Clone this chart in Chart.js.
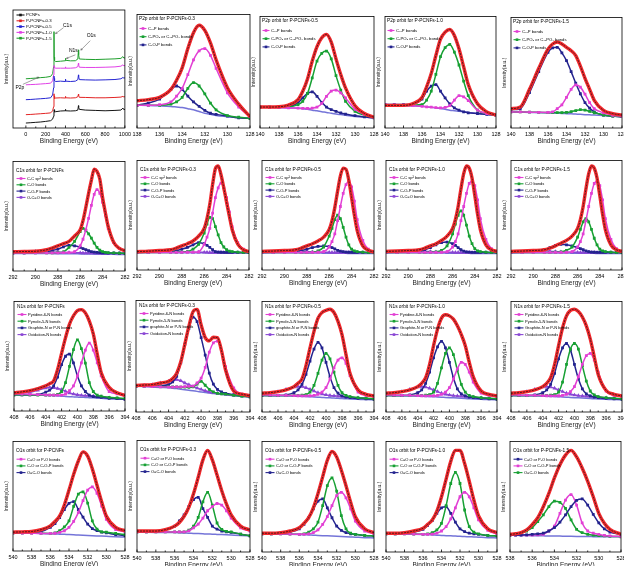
<!DOCTYPE html>
<html><head><meta charset="utf-8">
<script src="https://cdn.jsdelivr.net/npm/chart.js@4.4.1/dist/chart.umd.min.js"></script>
<style>
html,body{margin:0;padding:0;background:#fff;}
body{width:624px;height:566px;overflow:hidden;position:relative;}
</style></head><body>
<script>
// ---------------- DATA ----------------
// Survey spectra (binding energy, eV) – curves are vertically offset in the original
const S_E = [0,50,100,150,200,250,270,280,284,286,290,300,350,398,400,402,450,500,525,531,533,540,600,700,800,900,960,980,990,1000];
const S_PCNFs = [4.2,4.5,4.8,5.1,5.6,6.2,7.5,9.9,14,15.5,13.5,13.8,14.4,14.6,15.8,14.6,14.4,14.6,15.2,18.9,17.5,15.8,15.2,14.9,14.6,14.9,15.2,16.9,15.5,15.8];
const S_03 = [11.3,11.5,11.8,12.1,12.4,12.8,14.5,18,29,27,25,25.4,25.6,25.4,26.8,25.6,25.4,25.6,26.5,28.7,27.5,26,25.9,25.6,25.6,25.9,26.2,26.8,26.3,26.5];
const S_05 = [24,24.2,24.5,24.8,25.1,25.6,28,34,44,42,40,39.4,39.7,39.4,41.4,39.7,39.4,39.7,41,45,43.5,41,40.8,40.6,40.8,41.1,41.7,42.8,42.3,42.5];
const S_10 = [36.6,36.8,37,37.3,37.6,38,40,45,53,52,51,50.7,50.7,50.7,51.8,50.7,50.7,51,52,54.9,53.5,51.5,51.3,51.3,51.5,51.8,52.4,53.5,52.7,53];
const S_15 = [41.7,42,42.3,42.7,43,43.7,46,52,81.7,60,57,56.3,56.6,57,59,57.4,56.9,57,58.5,66.2,62,58.5,58.2,58,58.3,58.6,59,60.5,59.2,59.5];
const S_LABELS = ['PCNFs','P-PCNFs-0.3','P-PCNFs-0.5','P-PCNFs-1.0','P-PCNFs-1.5'];

// P2p
const P2p03_E = [138,137,136,135,134.5,134,133.5,133,132.5,132,131.5,131,130,129,128];
const P2p03_raw = [24,25,27,34,42,53,70,84,90.5,86,75,60,35.5,21,10];
const P2p03_CxP = [20,20,20.5,23,28,35,47,60,68,70,64,52.5,31,18.5,10];
const P2p03_CPO = [20,20,20,21,23,27,35,40,37,30,22,16,11,9.5,8.5];
const P2p03_COP = [20,22,25.5,34,37,34,28,23,19,15.6,13,12,10.5,9,8.5];
const P2p03_bg  = [20,19.8,19.5,19,18.5,18,17,16,14.5,13,12,11,10,9,8.5];

const P2p_E = [140,139,138,137,136,135.5,135,134.5,134,133.5,133,132.5,132,131.5,131,130,129,128];
const P2p05_raw = [18.8,18.8,19,20.6,25.5,33,44,60,73,81,84,77,62,48,36,20,13,9.6];
const P2p05_CxP = [18.8,18.6,18.3,18,17.8,17.7,17.6,17.8,18.8,22,28.4,33,34,31.5,27,16.8,12,9.6];
const P2p05_CPO = [18.8,18.8,18.8,19,21,24,31,45,60,67,69,62,47,34,24,15,11.6,9.5];
const P2p05_COP = [18.8,18.8,19,19.4,22.6,27,31,32.5,28.4,23,18.8,16.5,15,13.5,12.5,11,10,9];
const P2p05_bg  = [18.8,18.6,18.3,18,17.7,17.2,16.8,16,15.4,14.6,14,13.2,12.5,12,11.5,10.4,9.7,9];

const P2p10_raw = [20.3,20.3,20.3,21.7,27.5,37,49,65,79.7,86,88.4,83,71,55,39,21.7,14.5,11.6];
const P2p10_CxP = [21,20.8,20.4,20,19.4,19,18.7,18.3,18,18.5,20,25,29,28,24.6,16,13,11.6];
const P2p10_CPO = [20.3,20.3,20.3,20.5,21,25,33,48,64,72,75,68,56.5,42,29,16,13,11.5];
const P2p10_COP = [21,21,21,21.5,26,33,37.5,39,33,27,21.7,18,16,14.5,13.6,13,12.2,11.6];
const P2p10_bg  = [21,20.6,20.2,19.8,19.4,19,18.5,18,17.4,16.8,16,15.5,15,14.5,14,13,12.2,11.6];

const P2p15_raw = [17.5,19,35,54,71.4,76,77.8,76,73,70,65.6,56,45,35,25,16,13,11.7];
const P2p15_CxP = [14.6,14.5,14.3,14.2,14.1,14.5,17.5,21,27.7,35,39,37,30.6,23,17.5,13.7,11.5,10.5];
const P2p15_CPO = [14.6,14.5,14.3,14.2,14,14,14,14,14.2,14.8,15.8,16.6,16.2,15,13.8,11.7,10.8,10.2];
const P2p15_COP = [16.6,17.5,32,51,68.5,72.5,73,68,61,51,40.5,31,23,18,14.6,11.7,10.8,10.2];
const P2p15_bg  = [14.6,14.4,14.1,13.9,13.6,13.5,13.3,13.2,13,12.8,12.6,12.4,12.1,11.9,11.7,11.2,10.6,10];

// C1s
const C1s_E = [292,291,290,289,288.5,288,287.5,287,286.5,286,285.75,285.5,285.25,285,284.75,284.5,284.25,284,283.75,283.5,283,282.5,282];
const C1s00_raw = [17.6,17.8,18,19.4,21,23,25,27,32,37.6,46,58,71,83,93,91,84,67,53,40.6,26,20.6,18.5];
const C1s00_CC  = [16.5,16.5,16.5,16.5,16.5,16.6,16.7,16.8,17.6,23,29,37.6,48,60,70,74.4,71,62.6,51,39,26,20.6,18.5];
const C1s00_CO  = [16.5,16.5,16.5,16.5,16.6,16.8,17.5,21.5,27,36,39,37,34,30,25.5,21.5,19,17.6,17,16.7,16.5,16.3,16.2];
const C1s00_COP = [16.5,16.6,17,17.6,18.8,20,22,23.5,23,21.5,20.5,19.5,18.5,17.6,17.2,17,16.8,16.6,16.5,16.4,16.3,16.2,16.2];
const C1s00_OCO = [16.8,17.2,17.8,18,17.6,17.2,17,16.8,16.7,16.6,16.5,16.5,16.4,16.4,16.3,16.3,16.2,16.2,16.2,16.1,16.1,16,16];
const C1s00_bg  = [16,16,16,15.9,15.9,15.8,15.8,15.7,15.7,15.6,15.6,15.5,15.5,15.5,15.4,15.4,15.4,15.3,15.3,15.2,15.2,15.1,15];

const C1s03_raw = [16.8,17.2,17.8,18.5,20,22,24,26.5,31,38,47,60,78,92.6,95,87,75,61.8,49,36.8,23.5,18.5,16.8];
const C1s03_CC  = [16,16,16,16,16,16.1,16.2,16.3,16.5,23.5,30,38,52,66,75,79.4,75,66,53,39.7,25,19,16.8];
const C1s03_CO  = [16,16,16,16,16.2,16.4,16.8,19,23.5,33.8,42,48,47,39.7,32,25,21,18.5,17.3,16.8,16.3,16,16];
const C1s03_COP = [16,16.2,16.5,17,17.6,19,20.6,23,25,24,22.5,20.6,18.5,16.8,16.4,16.2,16.1,16,16,16,16,16,16];
const C1s03_OCO = [16.2,16.5,16.8,16.8,16.6,16.4,16.3,16.2,16.2,16.1,16.1,16,16,16,16,16,16,16,16,16,16,16,16];
const C1s03_bg  = [16,16,15.9,15.9,15.8,15.8,15.8,15.7,15.7,15.7,15.6,15.6,15.6,15.6,15.6,15.5,15.5,15.5,15.5,15.5,15.5,15.5,15.5];

const C1s05_raw = [17,17.3,17.8,18.5,20,22,24,26.5,30,37,45,57,72,86,93,92,82,66,50,36,22,18,16.5];
const C1s05_CC  = [16,16,16,16,16,16,16,16.2,16.8,21,26,33,45,58,70,78,81,76,63,46,27,19,16.5];
const C1s05_CO  = [16,16,16,16,16,16,16.3,17.5,21,31,38,46,50,47,39,30,23,19,17.5,16.8,16.3,16,16];
const C1s05_COP = [16,16.2,16.5,17,17.8,19,20.5,21.5,22,21.5,20.5,19.3,18,17.2,16.7,16.4,16.2,16.1,16,16,16,16,16];
const C1s05_OCO = [16.2,16.6,17.2,17.5,17.2,16.8,16.5,16.3,16.2,16.1,16,16,16,16,16,16,16,16,16,16,16,16,16];
const C1s05_bg  = [15.8,15.8,15.7,15.7,15.6,15.6,15.5,15.5,15.4,15.4,15.3,15.3,15.3,15.2,15.2,15.2,15.1,15.1,15.1,15,15,15,15];

const C1s10_raw = [17,17.3,17.8,18.5,20,22,24,27,31,38,46,58,74,88,95,93,84,68,51,37,23,18.5,17];
const C1s10_CC  = [16,16,16,16,16,16,16,16.2,16.8,21,26,33,45,58,70,79,81,77,64,47,28,19.5,17];
const C1s10_CO  = [16,16,16,16,16,16.2,16.5,18,22,33,42,50,54,50,41,31,24,19.5,17.5,16.8,16.3,16,16];
const C1s10_COP = [16,16.2,16.5,17.2,18.5,20.5,23,25,25.5,24,22.5,20.5,18.5,17.2,16.6,16.3,16.1,16,16,16,16,16,16];
const C1s10_OCO = [16.2,16.6,17.2,17.5,17.2,16.8,16.5,16.3,16.2,16.1,16,16,16,16,16,16,16,16,16,16,16,16,16];
const C1s10_bg  = [15.8,15.8,15.7,15.7,15.6,15.6,15.5,15.5,15.4,15.4,15.3,15.3,15.3,15.2,15.2,15.2,15.1,15.1,15.1,15,15,15,15];

const C1s15_raw = [17,17.3,17.8,18.5,20,22,24.5,27,31,38,46,58,74,88,95,93,84,68,51,37,23,18.5,17];
const C1s15_CC  = [16,16,16,16,16,16,16,16.2,16.8,21,26,33,45,58,70,79,81,77,64,47,28,19.5,17];
const C1s15_CO  = [16,16,16,16,16,16.2,16.5,18,21,30,37,44,47,44,37,29,23,19,17.5,16.8,16.3,16,16];
const C1s15_COP = [16,16.3,17,18.5,20.5,22.5,23.5,23,22,20.5,19.5,18.5,17.5,16.8,16.4,16.2,16.1,16,16,16,16,16,16];
const C1s15_OCO = [16.2,16.6,17.2,17.5,17.2,16.8,16.5,16.3,16.2,16.1,16,16,16,16,16,16,16,16,16,16,16,16,16];
const C1s15_bg  = [15.8,15.8,15.7,15.7,15.6,15.6,15.5,15.5,15.4,15.4,15.3,15.3,15.3,15.2,15.2,15.2,15.1,15.1,15.1,15,15,15,15];

// N1s
const N1s_E = [408,407,406,405,404,403.5,403,402.5,402,401.5,401,400.5,400,399.5,399,398.5,398,397.5,397,396,395,394];
const N1s00_raw = [16.6,17.5,18.6,20.5,23,25,27.5,38,52.7,67,79.3,87,91.7,92.6,89.6,82,70.4,52,35,21.6,16.6,14.2];
const N1s00_pyd = [15.7,15.5,15.3,15,14.8,14.6,14.5,14.4,14.5,15.5,18.6,23,32,44,55.6,62,55.6,44,32,17.8,15.7,14];
const N1s00_pyr = [14.8,14.8,14.7,14.6,14.5,14.5,14.6,15.2,17.8,26,40.8,56,65,57,43.8,26,17.8,14.5,13.5,12.5,12,11.5];
const N1s00_gra = [14.8,14.8,14.8,15,17.2,19,23,31,42.3,50,52,44,32,23,17.8,14.5,13.2,12.8,12.5,11.6,11.2,10.7];
const N1s00_oxi = [15.7,16.5,17.2,19,21,21.6,21.2,20.5,19.5,18,16.5,15.5,14.8,14.3,14,13.8,13.6,13.2,12.8,12,11.5,11];
const N1s00_bg  = [14.8,14.6,14.5,14.4,14.2,14.1,14,13.8,13.5,13.3,13.1,12.9,12.7,12.5,12.4,12.2,12,11.8,11.6,11.2,11,10.7];

const N1s03_raw = [23.8,24.2,24.6,26,27.5,30,34.8,45,60.9,77,89.9,92,78,66.7,63.8,67,66.7,55,37.7,18.8,16,14.5];
const N1s03_pyd = [23.2,23,22.8,22.6,22.4,22.4,22.5,22.6,22.8,23,23.2,26,30.4,40,53.6,62,63.5,55,40.6,21.7,16,14.5];
const N1s03_pyr = [23,23,23,22.8,22.7,22.6,22.5,22.4,22.3,22.2,22.5,25,27.5,24,20.3,18,16.8,16.3,16,15,14.2,13.6];
const N1s03_gra = [23.2,23.2,23.3,23.6,24.6,27,31.9,44,60.9,75,85,81,66.7,51,34.8,25,20.3,18,16.8,15.5,14.5,13.6];
const N1s03_oxi = [23.2,23.8,24.6,26,27.5,28.5,29,28,26,24.5,22.8,21.5,20.3,19,18,17.2,16.8,16.3,15.8,15,14.3,13.6];
const N1s03_bg  = [23.2,22.8,22.4,22,21.7,21.3,21,20.5,20,19.5,19,18.5,18,17.5,17,16.5,16.2,15.8,15.4,14.5,14,13.6];

const N1s05_raw = [17,17.5,18.5,20,23,26,30,42,58,73,85,90,92,93,90,82,70,52,35,20,16,14.5];
const N1s05_pyd = [15.5,15.3,15.1,15,14.8,14.7,14.6,14.6,14.7,15,16,18,22,30,40,47,49,44,33,18,15,14];
const N1s05_pyr = [15,15,15,15,15,15,15.2,15.8,18,24,35,47,53,48,36,24,17.5,15,14,13,12.5,12];
const N1s05_gra = [15,15,15,15.5,17.5,20,25,34,46,57,63,58,45,32,22,17,14.5,13.5,13,12.3,12,11.5];
const N1s05_oxi = [16,17,18.5,20.5,22.5,23,23,22,20.5,19,17.5,16.3,15.5,15,14.6,14.3,14,13.7,13.4,12.8,12.3,12];
const N1s05_bg  = [15,14.8,14.7,14.5,14.3,14.2,14.1,14,13.8,13.6,13.4,13.2,13,12.8,12.6,12.4,12.2,12,11.8,11.5,11.2,11];

const N1s10_raw = [17,17.5,18.5,20,23,26,31,43,60,75,85,88,87,84,78,70,60,45,32,19,16,14.5];
const N1s10_pyd = [15.5,15.3,15.1,15,14.8,14.7,14.6,14.6,14.7,15,16,18,22,30,39,45,43,36,27,17,15,14];
const N1s10_pyr = [15,15,15,15,15,15,15.2,15.8,18,26,40,53,58,52,38,25,18,15,14,13,12.5,12];
const N1s10_gra = [15,15,15,15.5,17.5,20,26,36,49,59,64,58,45,31,21,16.5,14.5,13.5,13,12.3,12,11.5];
const N1s10_oxi = [16,17,18.5,20.5,22.5,23,22.5,21.5,20,18.5,17,16,15.3,14.8,14.5,14.2,14,13.7,13.4,12.8,12.3,12];
const N1s10_bg  = [15,14.8,14.7,14.5,14.3,14.2,14.1,14,13.8,13.6,13.4,13.2,13,12.8,12.6,12.4,12.2,12,11.8,11.5,11.2,11];

const N1s15_raw = [17,17.5,18.5,20,23,26,31,43,60,76,87,92,93,91,86,78,66,50,34,19.5,16,14.5];
const N1s15_pyd = [15.5,15.3,15.1,15,14.8,14.7,14.6,14.6,14.7,15,16,18.5,23,32,43,51,53,47,36,19,15,14];
const N1s15_pyr = [15,15,15,15,15,15,15.2,15.8,18,27,43,57,62,57,42,28,19,15.5,14,13,12.5,12];
const N1s15_gra = [15,15,15,15.5,17.5,20,25,35,48,58,62,56,43,30,21,16.5,14.5,13.5,13,12.3,12,11.5];
const N1s15_oxi = [16,17,18.5,20.5,22.5,23,22.5,21.5,20,18.5,17,16,15.3,14.8,14.5,14.2,14,13.7,13.4,12.8,12.3,12];
const N1s15_bg  = [15,14.8,14.7,14.5,14.3,14.2,14.1,14,13.8,13.6,13.4,13.2,13,12.8,12.6,12.4,12.2,12,11.8,11.5,11.2,11];

// O1s
const O1s_E = [540,539,538,537,536,535.5,535,534.5,534,533.5,533,532.5,532,531.5,531,530.5,530,529,528];
const O1s00_raw = [17.2,17.5,17.8,19.5,23,27,32,42,55.6,70,82.2,90.5,86.7,75,60,45,32,21.6,18.6];
const O1s00_CO  = [16.6,16.4,16.2,16,16,16.2,17,18.5,21.6,27,35,46,55.6,58.5,52.7,41,29,19.5,17.8];
const O1s00_COP = [16.6,16.5,16.4,16.2,16,16.5,18.6,22,27.5,40.8,52,54,43.8,27.5,20,17.5,17.2,16,15];
const O1s00_OCO = [16.6,16.6,17,17.8,21.6,25,30.5,37.9,43.5,45,37.9,31,24.6,20.5,18.6,17.2,16.6,15,14];
const O1s00_bg  = [16.6,16.4,16.2,16,15.7,15.6,15.4,15.2,15,14.8,14.6,14.4,14.2,14,13.8,13.6,13.4,13,12.7];

const O1s03_raw = [18.8,18.8,18.8,20,23.2,26.5,31.9,40,52.2,67,82.6,91,82.6,69,55,43,33.3,23.2,19.7];
const O1s03_CO  = [18,18,18,18,18,18,18,19,21.7,25,30.4,37,40.6,43.5,42,37,30.4,21.7,18.8];
const O1s03_COP = [18,18,18,18,18,18,18,19.5,23.2,31,45,53.5,42,26,20.3,18.5,18,16,14.5];
const O1s03_OCO = [18,18,18.3,19.7,23.2,28,33.3,40.6,47,49,39,31,23.2,20.5,18.8,18,17.5,16,14.5];
const O1s03_bg  = [18,17.8,17.6,17.4,17.4,17.2,17,16.8,16.7,16.5,16.3,16.1,16,15.8,15.6,15.4,15.2,14.8,14.5];

const O1s05_raw = [17,17,17.5,19,22,26,31,40,53,68,83,91,86,74,60,45,32,21,17.5];
const O1s05_CO  = [16.5,16.4,16.3,16.2,16,16,16.3,17.5,20,25,32,42,51,54,49,39,28,19,16.5];
const O1s05_COP = [16.5,16.4,16.3,16.2,16,16.5,18,21,27,42,60,67,55,33,21,17,16,15,14.5];
const O1s05_OCO = [16.5,16.5,17,18,21,25,31,39,46,48,40,31,23.5,19.5,17.5,16.5,16,15,14.5];
const O1s05_bg  = [16.5,16.3,16.1,16,15.8,15.6,15.4,15.2,15,14.8,14.6,14.4,14.2,14,13.8,13.6,13.4,13,12.7];

const O1s10_raw = [17,17,17.5,19,21.5,25,29,37,50,66,82,92,92,80,64,47,33,21,17.5];
const O1s10_CO  = [16.5,16.4,16.3,16.2,16,16,16.2,17,19,23,30,40,50,54,50,40,29,19.5,16.5];
const O1s10_COP = [16.5,16.4,16.3,16.2,16,16.3,17.5,20,26,42,62,72,62,38,23,18,16.5,15,14.5];
const O1s10_OCO = [16.5,16.5,17,18,20.5,24,28.5,35,40,41,35,27,21,18.5,17,16.5,16,15,14.5];
const O1s10_bg  = [16.5,16.3,16.1,16,15.8,15.6,15.4,15.2,15,14.8,14.6,14.4,14.2,14,13.8,13.6,13.4,13,12.7];

const O1s15_E = [538,537.5,537,536.5,536,535.5,535,534.5,534,533.5,533,532.5,532,531.5,531,530.5,530,529.5,529,528];
const O1s15_raw = [16,16.5,17.5,20,24.8,31,41,53,67,79,87.7,92,86,76,64,50,35,26,20.5,16];
const O1s15_CO  = [15.2,15.2,15.3,15.5,16,16.5,17,19,22,27,33.6,41,46.8,48,42.4,34,26.3,21,18,16];
const O1s15_COP = [15.2,15.2,15.2,15.2,15.3,15.5,16,19,23.4,35,47,52,42.4,26.3,19,17,16,15,14.5,14];
const O1s15_OCO = [15.5,16,17,19,22,27.5,33.6,41,46,45,39.5,29,20.5,17.5,16,15.2,14.8,14.5,14.2,13.8];
const O1s15_bg  = [15.2,15.1,15,14.9,14.8,14.7,14.6,14.5,14.5,14.4,14.3,14.2,14.1,14,14,13.9,13.8,13.8,13.7,13.7];

// ---------------- DRAWING ----------------
const FONT = "'Liberation Sans Narrow','Liberation Sans',Arial,sans-serif";
Chart.defaults.font.family = FONT;
Chart.defaults.color = '#000';
const COL = {red:'#f2282c', blk:'#151515', mag:'#e23fd4', grn:'#17a033', nav:'#23238e', pur:'#8a46d4', bg:'#7474d8', blu:'#2525d2', sg:'#1f9f2c', sm:'#e040e6', sr:'#e22424'};

function P(E, Y){ return E.map((x,i)=>({x:x, y:Y[i]})); }
function fitSets(E,Y){ return [
  {data:P(E,Y), borderColor:COL.blk, borderWidth:0.7, borderDash:[2,1], pointRadius:0},
  {data:P(E,Y), borderColor:COL.red, borderWidth:3.4, pointRadius:0}]; }
function comp(label,E,Y,color,ps){ return {label:label, legend:true, data:P(E,Y), borderColor:color, backgroundColor:color, borderWidth:1.5, pointRadius:0.9, pointStyle:ps||'rect'}; }
function bgSet(E,Y){ return {data:P(E,Y), borderColor:COL.bg, borderWidth:1.5, pointRadius:0}; }

function framePlugin(){ return {id:'frame', afterDatasetsDraw(c){
  const ctx=c.ctx, a=c.chartArea, xs=c.scales.x;
  ctx.save(); ctx.strokeStyle='#000'; ctx.lineWidth=0.8;
  ctx.strokeRect(a.left, a.top, a.right-a.left, a.bottom-a.top);
  const tv = xs.ticks.map(t=>t.value);
  ctx.beginPath();
  tv.forEach((v,i)=>{ const p=xs.getPixelForValue(v); ctx.moveTo(p,a.bottom); ctx.lineTo(p,a.bottom-2.5);
    if(i<tv.length-1){ const m=xs.getPixelForValue((v+tv[i+1])/2); ctx.moveTo(m,a.bottom); ctx.lineTo(m,a.bottom-1.5);} });
  ctx.stroke(); ctx.restore(); }}; }

function legendPlugin(L){ return {id:'insideLegend', afterDatasetsDraw(c){
  const ctx=c.ctx, a=c.chartArea;
  ctx.save(); ctx.textBaseline='middle'; ctx.textAlign='left';
  if(L.title){ ctx.font=L.tfs+'px '+FONT; ctx.fillStyle='#000'; ctx.fillText(L.title, a.left+L.dx, a.top+L.ty); }
  const items = c.data.datasets.filter(d=>d.legend);
  items.forEach((d,i)=>{
    const y=a.top+L.y0+i*L.dy, x=a.left+L.dx+0.5;
    ctx.strokeStyle=d.borderColor; ctx.fillStyle=d.borderColor; ctx.lineWidth=1.1;
    ctx.beginPath(); ctx.moveTo(x,y); ctx.lineTo(x+L.lw,y); ctx.stroke();
    ctx.fillRect(x+L.lw/2-1.3,y-1.3,2.6,2.6);
    ctx.fillStyle='#000'; ctx.font=L.ifs+'px '+FONT;
    ctx.fillText(d.label, x+L.lw+1.5, y+0.3);
  });
  ctx.restore(); }}; }

function panel(box, xc, datasets, L, extra){
  const l=box[0], t=box[1], r=box[2], b=box[3];
  const AXW=10, AXH=17, PT=2, PR=8;
  const div=document.createElement('div');
  div.style.cssText='position:absolute;left:'+(l-AXW)+'px;top:'+(t-PT)+'px;width:'+(r-l+AXW+PR)+'px;height:'+(b-t+PT+AXH)+'px;';
  const cv=document.createElement('canvas'); div.appendChild(cv); document.body.appendChild(div);
  const plugins=[framePlugin(), legendPlugin(L)]; if(extra) plugins.push(extra);
  new Chart(cv,{type:'line', data:{datasets:datasets}, plugins:plugins, options:{
    responsive:true, maintainAspectRatio:false, animation:false, events:[],
    layout:{padding:{top:PT,right:PR,left:0,bottom:0}},
    plugins:{legend:{display:false}, tooltip:{enabled:false}},
    elements:{line:{cubicInterpolationMode:'monotone'}},
    scales:{
      x:{type:'linear', min:xc.min, max:xc.max, reverse:xc.rev!==false,
         ticks:{stepSize:xc.step, includeBounds:false, font:{size:5.5}, padding:3, maxRotation:0, autoSkip:false, color:'#000',
                callback:(v)=>String(v)},
         grid:{display:false, drawTicks:false}, border:{display:false},
         title:{display:true, text:'Binding Energy (eV)', font:{size:6.5}, padding:{top:0,bottom:0}, color:'#222'},
         afterFit:(s)=>{ s.height=AXH; }},
      y:{min:0, max:100, ticks:{display:false}, grid:{display:false, drawTicks:false}, border:{display:false},
         title:{display:true, text:'Intensity(a.u.)', font:{size:5}, padding:{top:1,bottom:0}, color:'#222'},
         afterFit:(s)=>{ s.width=AXW; }}
    }}});
}

// ---- Survey panel ----
const surveyNotes = {id:'notes', afterDatasetsDraw(c){
  const ctx=c.ctx, xs=c.scales.x, ys=c.scales.y;
  const notes=[{t:'P2p', x:-60, y:34, ax:-30, ay:37, bx:130, by:43},
               {t:'C1s', x:420, y:87, ax:380, ay:85, bx:300, by:80},
               {t:'N1s', x:480, y:65.5, ax:500, ay:62, bx:410, by:59},
               {t:'O1s', x:660, y:78, ax:650, ay:74, bx:555, by:66}];
  ctx.save(); ctx.font='5px '+FONT; ctx.fillStyle='#000'; ctx.strokeStyle='#444'; ctx.lineWidth=0.5;
  ctx.textAlign='center'; ctx.textBaseline='middle';
  notes.forEach(n=>{
    ctx.fillText(n.t, xs.getPixelForValue(n.x), ys.getPixelForValue(n.y));
    const x1=xs.getPixelForValue(n.ax), y1=ys.getPixelForValue(n.ay), x2=xs.getPixelForValue(n.bx), y2=ys.getPixelForValue(n.by);
    ctx.beginPath(); ctx.moveTo(x1,y1); ctx.lineTo(x2,y2); ctx.stroke();
    const ang=Math.atan2(y2-y1,x2-x1);
    ctx.beginPath(); ctx.moveTo(x2,y2); ctx.lineTo(x2-2*Math.cos(ang-0.5),y2-2*Math.sin(ang-0.5));
    ctx.moveTo(x2,y2); ctx.lineTo(x2-2*Math.cos(ang+0.5),y2-2*Math.sin(ang+0.5)); ctx.stroke();
  });
  ctx.restore(); }};
const sCols=[COL.blk, COL.sr, COL.blu, COL.sm, COL.sg];
const sData=[S_PCNFs,S_03,S_05,S_10,S_15];
panel([13,10,126,128], {min:-130,max:1000,step:200,rev:false},
  sData.map((Y,i)=>({label:S_LABELS[i], legend:true, data:P(S_E,Y), borderColor:sCols[i], borderWidth:1, pointRadius:0, tension:0, cubicInterpolationMode:'default'})),
  {dx:3, lw:8, ty:0, y0:5, dy:5.8, tfs:4.5, ifs:4.3}, surveyNotes);

// ---- P2p panels ----
const LP = {dx:2, lw:7, ty:4.5, y0:14, dy:8.2, tfs:4.8, ifs:4.2};
const nCx='Cₓ-P bonds', nCPO='C-PO₃ or C₂-PO₂ bonds', nCOP='C-O-P bonds';
function p2pSets(E,raw,cx,cpo,cop,bg){ return fitSets(E,raw).concat([comp(nCx,E,cx,COL.mag), comp(nCPO,E,cpo,COL.grn), comp(nCOP,E,cop,COL.nav), bgSet(E,bg)]); }
panel([137,11,250,128], {min:128,max:138,step:2}, p2pSets(P2p03_E,P2p03_raw,P2p03_CxP,P2p03_CPO,P2p03_COP,P2p03_bg), Object.assign({title:'P2p orbit for P-PCNFs-0.3'},LP));
panel([260,13,374,128], {min:128,max:140,step:2}, p2pSets(P2p_E,P2p05_raw,P2p05_CxP,P2p05_CPO,P2p05_COP,P2p05_bg), Object.assign({title:'P2p orbit for P-PCNFs-0.5'},LP));
panel([385,13,496,128], {min:128,max:140,step:2}, p2pSets(P2p_E,P2p10_raw,P2p10_CxP,P2p10_CPO,P2p10_COP,P2p10_bg), Object.assign({title:'P2p orbit for P-PCNFs-1.0'},LP));
panel([511,14,622,128], {min:128,max:140,step:2}, p2pSets(P2p_E,P2p15_raw,P2p15_CxP,P2p15_CPO,P2p15_COP,P2p15_bg), Object.assign({title:'P2p orbit for P-PCNFs-1.5'},LP));

// ---- C1s panels ----
const LC = {dx:3, lw:9, ty:9, y0:17, dy:6.3, tfs:4.8, ifs:4};
function c1sSets(raw,cc,co,cop,oco,bg){ const E=C1s_E; return fitSets(E,raw).concat([comp('C-C sp² bonds',E,cc,COL.mag), comp('C-O bonds',E,co,COL.grn), comp('C-O-P bonds',E,cop,COL.nav), comp('O-C=O bonds',E,oco,COL.pur,'triangle'), bgSet(E,bg)]); }
panel([13,158,125,271], {min:282,max:292,step:2}, c1sSets(C1s00_raw,C1s00_CC,C1s00_CO,C1s00_COP,C1s00_OCO,C1s00_bg), Object.assign({title:'C1s orbit for P-PCNFs'},LC));
panel([137,157,249,270], {min:282,max:292,step:2}, c1sSets(C1s03_raw,C1s03_CC,C1s03_CO,C1s03_COP,C1s03_OCO,C1s03_bg), Object.assign({title:'C1s orbit for P-PCNFs-0.3'},LC));
panel([262,157,374,270], {min:282,max:292,step:2}, c1sSets(C1s05_raw,C1s05_CC,C1s05_CO,C1s05_COP,C1s05_OCO,C1s05_bg), Object.assign({title:'C1s orbit for P-PCNFs-0.5'},LC));
panel([386,157,497,270], {min:282,max:292,step:2}, c1sSets(C1s10_raw,C1s10_CC,C1s10_CO,C1s10_COP,C1s10_OCO,C1s10_bg), Object.assign({title:'C1s orbit for P-PCNFs-1.0'},LC));
panel([511,157,622,270], {min:282,max:292,step:2}, c1sSets(C1s15_raw,C1s15_CC,C1s15_CO,C1s15_COP,C1s15_OCO,C1s15_bg), Object.assign({title:'C1s orbit for P-PCNFs-1.5'},LC));

// ---- N1s panels ----
const LN = {dx:3, lw:9, ty:5.3, y0:13, dy:6.7, tfs:4.8, ifs:4};
function n1sSets(raw,pyd,pyr,gra,oxi,bg,gname){ const E=N1s_E; return fitSets(E,raw).concat([comp('Pyridine-6-N bonds',E,pyd,COL.mag), comp('Pyrrole-5-N bonds',E,pyr,COL.grn), comp(gname||'Graphite-N or P-N bonds',E,gra,COL.nav), comp('Oxidation-N bonds',E,oxi,COL.pur,'triangle'), bgSet(E,bg)]); }
panel([14,298,125,411], {min:394,max:408,step:2}, n1sSets(N1s00_raw,N1s00_pyd,N1s00_pyr,N1s00_gra,N1s00_oxi,N1s00_bg), Object.assign({title:'N1s orbit for P-PCNFs'},LN));
panel([136,297,250,412], {min:394,max:408,step:2}, n1sSets(N1s03_raw,N1s03_pyd,N1s03_pyr,N1s03_gra,N1s03_oxi,N1s03_bg,'graphite-N or P-N bonds'), Object.assign({title:'N1s orbit for P-PCNFs-0.3'},LN));
panel([262,298,374,412], {min:394,max:408,step:2}, n1sSets(N1s05_raw,N1s05_pyd,N1s05_pyr,N1s05_gra,N1s05_oxi,N1s05_bg,'graphite-N or P-N bonds'), Object.assign({title:'N1s orbit for P-PCNFs-0.5'},LN));
panel([386,298,497,412], {min:394,max:408,step:2}, n1sSets(N1s10_raw,N1s10_pyd,N1s10_pyr,N1s10_gra,N1s10_oxi,N1s10_bg), Object.assign({title:'N1s orbit for P-PCNFs-1.0'},LN));
panel([511,298,622,412], {min:394,max:408,step:2}, n1sSets(N1s15_raw,N1s15_pyd,N1s15_pyr,N1s15_gra,N1s15_oxi,N1s15_bg), Object.assign({title:'N1s orbit for P-PCNFs-1.5'},LN));

// ---- O1s panels ----
const LO = {dx:3, lw:9, ty:8.7, y0:17.7, dy:6.7, tfs:4.8, ifs:4};
function o1sSets(E,raw,co,cop,oco,bg,cols){ cols=cols||[COL.mag,COL.grn,COL.nav]; return fitSets(E,raw).concat([comp('C=O or P-O bonds',E,co,cols[0]), comp('C-O or C-O-P bonds',E,cop,cols[1]), comp('O=C-O bonds',E,oco,cols[2]), bgSet(E,bg)]); }
panel([13,438,125,551], {min:528,max:540,step:2}, o1sSets(O1s_E,O1s00_raw,O1s00_CO,O1s00_COP,O1s00_OCO,O1s00_bg), Object.assign({title:'O1s orbit for P-PCNFs'},LO));
panel([137,437,250,552], {min:528,max:540,step:2}, o1sSets(O1s_E,O1s03_raw,O1s03_CO,O1s03_COP,O1s03_OCO,O1s03_bg), Object.assign({title:'O1s orbit for P-PCNFs-0.3'},LO));
panel([262,438,374,552], {min:528,max:540,step:2}, o1sSets(O1s_E,O1s05_raw,O1s05_CO,O1s05_COP,O1s05_OCO,O1s05_bg), Object.assign({title:'O1s orbit for P-PCNFs-0.5'},LO));
panel([386,438,497,552], {min:528,max:540,step:2}, o1sSets(O1s_E,O1s10_raw,O1s10_CO,O1s10_COP,O1s10_OCO,O1s10_bg), Object.assign({title:'O1s orbit for P-PCNFs-1.0'},LO));
panel([510,438,621,552], {min:528,max:538,step:2}, o1sSets(O1s15_E,O1s15_raw,O1s15_CO,O1s15_COP,O1s15_OCO,O1s15_bg,[COL.nav,COL.mag,COL.grn]), Object.assign({title:'O1s orbit for P-PCNFs-1.5'},LO));
</script>
</body></html>
